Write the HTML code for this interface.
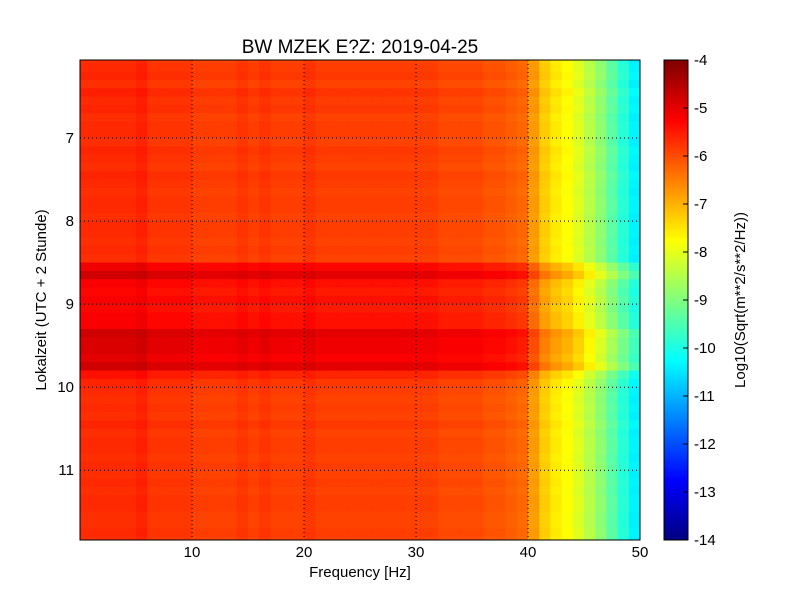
<!DOCTYPE html>
<html><head><meta charset="utf-8"><style>
body{margin:0;background:#fff;}
svg text{font-family:"Liberation Sans",sans-serif;fill:#000;}
</style></head><body>
<svg id="chart" width="800" height="600" viewBox="0 0 800 600" xmlns="http://www.w3.org/2000/svg">
<rect width="800" height="600" fill="#fff"/>
<text x="360" y="53" font-size="19" text-anchor="middle">BW MZEK E?Z: 2019-04-25</text>
<g id="cells"></g>
<g id="grid"></g>
<rect x="80" y="60" width="560" height="480" fill="none" stroke="#000" stroke-width="1"/>
<g id="axes"></g>
<text x="360" y="577" font-size="15" text-anchor="middle">Frequency [Hz]</text>
<text transform="translate(46,300) rotate(-90)" font-size="15" text-anchor="middle">Lokalzeit (UTC + 2 Stunde)</text>
<g id="cbar"></g>
<text transform="translate(745,300) rotate(-90)" font-size="15" text-anchor="middle">Log10(Sqrt(m**2/s**2/Hz))</text>
</svg>
<script>
// frequency bins (1 Hz each, lower edge)
const freqBins = [0,1,2,3,4,5,6,7,8,9,10,11,12,13,14,15,16,17,18,19,20,21,22,23,24,25,26,27,28,29,30,31,32,33,34,35,36,37,38,39,40,41,42,43,44,45,46,47,48,49];
const freqLevel = [-5.7,-5.7,-5.7,-5.7,-5.7,-5.6,-5.8,-5.8,-5.8,-5.8,-5.9,-5.9,-5.9,-5.9,-5.8,-5.9,-5.8,-5.9,-5.9,-5.9,-5.8,-5.9,-5.9,-5.9,-5.9,-5.9,-5.9,-5.9,-5.9,-5.9,-5.9,-5.9,-6.0,-6.0,-6.0,-6.0,-6.1,-6.1,-6.2,-6.3,-6.8,-7.3,-7.6,-7.8,-8.1,-8.5,-8.9,-9.4,-9.9,-10.4];
// time bins (0.1 h each, lower edge) and level offset
const timeBins = [6.0,6.1,6.2,6.3,6.4,6.5,6.6,6.7,6.8,6.9,7.0,7.1,7.2,7.3,7.4,7.5,7.6,7.7,7.8,7.9,8.0,8.1,8.2,8.3,8.4,8.5,8.6,8.7,8.8,8.9,9.0,9.1,9.2,9.3,9.4,9.5,9.6,9.7,9.8,9.9,10.0,10.1,10.2,10.3,10.4,10.5,10.6,10.7,10.8,10.9,11.0,11.1,11.2,11.3,11.4,11.5,11.6,11.7,11.8];
const timeOffset = [0,0.05,0.1,0,0.15,0.05,0.1,0,0.05,0.05,0,0.1,0.05,0,0.1,0.05,0,0.05,0.05,0,0.05,0.05,0,0.05,0,0.6,0.9,0.5,0.4,0.5,0.4,0.5,0.5,0.9,0.8,0.8,0.7,0.9,0.3,0.1,0.05,0,0.05,0,0.1,0,0.05,0.05,0,0.05,0,0.05,0,0.05,0.05,0,0,0.05,0];
const xTicks = [10,20,30,40,50];
const yTicks = [7,8,9,10,11];
const cTicks = [-4,-5,-6,-7,-8,-9,-10,-11,-12,-13,-14];

const X0=80,X1=640,Y0=60,Y1=540, T0=6.06, T1=11.84, F0=0,F1=50, CMIN=-14,CMAX=-4;
const xs = f => X0 + (f-F0)/(F1-F0)*(X1-X0);
const ys = t => Y0 + (t-T0)/(T1-T0)*(Y1-Y0);
const cs = v => 540 - (v-CMIN)/(CMAX-CMIN)*480;
function jet(v){
  let t=(v-CMIN)/(CMAX-CMIN); t=Math.max(0,Math.min(1,t));
  const c=x=>Math.round(255*Math.max(0,Math.min(1,x)));
  const r=c(Math.min(4*t-1.5,-4*t+4.5)), g=c(Math.min(4*t-0.5,-4*t+3.5)), b=c(Math.min(4*t+0.5,-4*t+2.5));
  return `rgb(${r},${g},${b})`;
}
const NS="http://www.w3.org/2000/svg";
function mk(tag,attrs,parent){const e=document.createElementNS(NS,tag);for(const k in attrs)e.setAttribute(k,attrs[k]);parent.appendChild(e);return e;}
const cells=document.getElementById('cells');
timeBins.forEach((t,i)=>{
  const ya=Math.max(Y0,ys(t)), yb=Math.min(Y1,ys(t+0.1));
  if(yb<=ya) return;
  freqBins.forEach((f,j)=>{
    const r=mk('rect',{x:xs(f),y:ya,width:xs(f+1)-xs(f)+0.5,height:yb-ya+0.5,fill:jet(freqLevel[j]+timeOffset[i])},cells);
    
    
  });
});
const grid=document.getElementById('grid'), axes=document.getElementById('axes');
xTicks.forEach(v=>{
  const x=xs(v);
  if(v<50){const l=mk('line',{x1:x,x2:x,y1:Y0,y2:Y1,stroke:'#000','stroke-dasharray':'1,3','stroke-width':1},grid);
  
  }
  const tx=mk('text',{x:x,y:557,'font-size':15,'text-anchor':'middle'},axes);tx.textContent=v;
  
  
});
yTicks.forEach(v=>{
  const y=ys(v);
  const l=mk('line',{x1:X0,x2:X1,y1:y,y2:y,stroke:'#000','stroke-dasharray':'1,3','stroke-width':1},grid);
  
  
  const tx=mk('text',{x:74,y:y+5,'font-size':15,'text-anchor':'end'},axes);tx.textContent=v;
  
  
});
const cb=document.getElementById('cbar');
for(let k=0;k<240;k++){
  const v=CMIN+(k+0.5)/240*(CMAX-CMIN);
  const r=mk('rect',{x:664,y:540-(k+1)*2,width:24,height:2.5,fill:jet(v)},cb);
  
  
}
mk('rect',{x:664,y:60,width:24,height:480,fill:'none',stroke:'#000'},cb);
cTicks.forEach(v=>{
  const y=cs(v);
  mk('line',{x1:683,x2:688,y1:y,y2:y,stroke:'#000'},cb);
  const tx=mk('text',{x:694,y:y+5,'font-size':15},cb);tx.textContent=v;
  
  
});
</script>
</body></html>
